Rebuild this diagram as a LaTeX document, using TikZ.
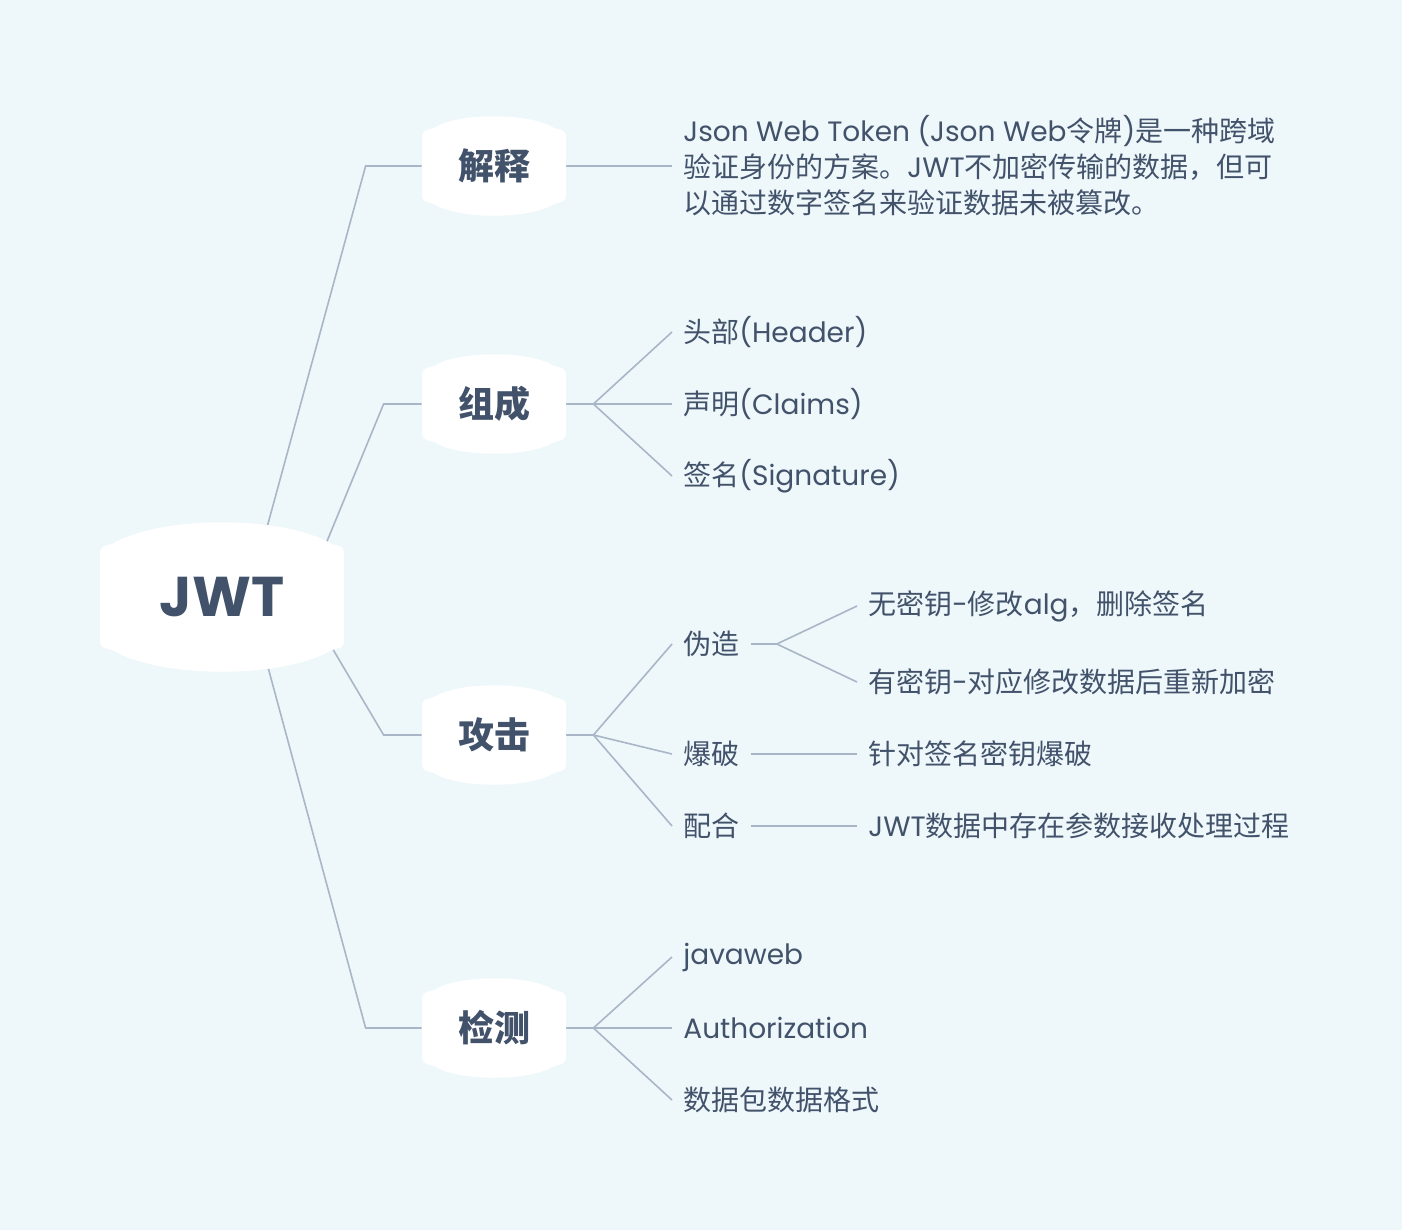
\documentclass[tikz,border=0pt]{standalone}
\usepackage{fontspec}
\setmainfont{Poppins}
\newfontfamily\cjk{Noto Sans CJK SC}
\usetikzlibrary{backgrounds}

\definecolor{bgblue}{HTML}{EEF7FA}
\definecolor{inkblue}{HTML}{42526B}
\definecolor{linegray}{HTML}{A8B6C7}

\newcommand\zh[1]{{\cjk #1}}
% white box with bowed top and bottom, drawn round a node: name, half width, half height, bulge
\newcommand\drawblob[4]{%
  \fill[white] ([shift={(-#2,-#3+#4+10)}]#1.center)
    .. controls ([shift={(-#2,-#3+#4)}]#1.center) .. ([shift={(-#2+12,-#3+#4-3)}]#1.center)
    .. controls ([shift={(-#2/2,-#3-#4/3)}]#1.center) and ([shift={(#2/2,-#3-#4/3)}]#1.center) .. ([shift={(#2-12,-#3+#4-3)}]#1.center)
    .. controls ([shift={(#2,-#3+#4)}]#1.center) .. ([shift={(#2,-#3+#4+10)}]#1.center)
    -- ([shift={(#2,#3-#4-10)}]#1.center)
    .. controls ([shift={(#2,#3-#4)}]#1.center) .. ([shift={(#2-12,#3-#4+3)}]#1.center)
    .. controls ([shift={(#2/2,#3+#4/3)}]#1.center) and ([shift={(-#2/2,#3+#4/3)}]#1.center) .. ([shift={(-#2+12,#3-#4+3)}]#1.center)
    .. controls ([shift={(-#2,#3-#4)}]#1.center) .. ([shift={(-#2,#3-#4-10)}]#1.center) -- cycle;}

\begin{document}
\begin{tikzpicture}[x=0.5pt,y=-0.5pt,text=inkblue]
    \tikzstyle{root}=[font=\bfseries\fontsize{28}{32}\selectfont,minimum width=122.5pt,minimum height=73.5pt,inner sep=0pt]
    \tikzstyle{topic}=[font=\bfseries\fontsize{18}{22}\selectfont,minimum width=72pt,minimum height=49pt,inner sep=0pt]
    \tikzstyle{leaf}=[font=\fontsize{14}{18}\selectfont,anchor=west,inner sep=5.5pt,align=left]
    \tikzstyle{link}=[draw=linegray,line width=0.8pt]

    \useasboundingbox (0,0) rectangle (1402,1230);

    % Root and the four topics
    \node[root] (jwt) at (222,597) {JWT};
    \node[topic] (jieshi) at (494,166) {\zh{解释}};
    \node[topic] (zucheng) at (494,404) {\zh{组成}};
    \node[topic] (gongji) at (494,735) {\zh{攻击}};
    \node[topic] (jiance) at (494,1028) {\zh{检测}};

    % Explanation text
    \node[leaf] (desc) at (672,166) {Json Web Token (Json Web\zh{令牌})\zh{是一种跨域}\\
        \zh{验证身份的方案。}JWT\zh{不加密传输的数据，但可}\\
        \zh{以通过数字签名来验证数据未被篡改。}};

    % Parts
    \foreach \name/\y/\txt in {head/332/{\zh{头部}(Header)},claim/404/{\zh{声明}(Claims)},sign/476/{\zh{签名}(Signature)}}
        \node[leaf] (\name) at (672,\y) {\txt};

    % Attacks
    \node[leaf] (weizao) at (672,644) {\zh{伪造}};
    \node[leaf] (baopo) at (672,754) {\zh{爆破}};
    \node[leaf] (peihe) at (672,826) {\zh{配合}};
    \node[leaf] (nokey) at (857,606) {\zh{无密钥}-\zh{修改}alg\zh{，删除签名}};
    \node[leaf] (withkey) at (857,682) {\zh{有密钥}-\zh{对应修改数据后重新加密}};
    \node[leaf] (brute) at (857,754) {\zh{针对签名密钥爆破}};
    \node[leaf] (param) at (857,826) {JWT\zh{数据中存在参数接收处理过程}};

    % Detection
    \node[leaf] (javaweb) at (672,957) {javaweb};
    \node[leaf] (auth) at (672,1028) {Authorization};
    \node[leaf] (packet) at (672,1100) {\zh{数据包数据格式}};

    \begin{scope}[on background layer]
        \fill[bgblue] (0,0) rectangle (1402,1230);

        % Root to topics
        \draw[link] ([shift={(26,0)}]jwt.center) -- ([xshift=-28pt]jieshi.west) -- (jieshi.west);
        \draw[link] ([shift={(82,0)}]jwt.center) -- ([xshift=-19pt]zucheng.west) -- (zucheng.west);
        \draw[link] ([shift={(80,0)}]jwt.center) -- ([xshift=-19pt]gongji.west) -- (gongji.west);
        \draw[link] ([shift={(27,0)}]jwt.center) -- ([xshift=-28pt]jiance.west) -- (jiance.west);

        % Topics to leaves
        \draw[link] (jieshi.east) -- (desc.west);
        \draw[link] (zucheng.east) -- ++(27,0) coordinate (zucheng-j);
        \foreach \leaf in {head,claim,sign}
            \draw[link] (zucheng-j) -- (\leaf.west);
        \draw[link] (gongji.east) -- ++(27,0) coordinate (gongji-j);
        \foreach \leaf in {weizao,baopo,peihe}
            \draw[link] (gongji-j) -- (\leaf.west);
        \draw[link] (weizao.east) -- ++(26,0) coordinate (weizao-j);
        \foreach \leaf in {nokey,withkey}
            \draw[link] (weizao-j) -- (\leaf.west);
        \draw[link] (baopo.east) -- (brute.west);
        \draw[link] (peihe.east) -- (param.west);
        \draw[link] (jiance.east) -- ++(27,0) coordinate (jiance-j);
        \foreach \leaf in {javaweb,auth,packet}
            \draw[link] (jiance-j) -- (\leaf.west);

        % White boxes over the line ends
        \drawblob{jwt}{122}{74}{24}
        \foreach \topic in {jieshi,zucheng,gongji,jiance}
            {\drawblob{\topic}{72}{49}{14}}
    \end{scope}
\end{tikzpicture}
\end{document}
